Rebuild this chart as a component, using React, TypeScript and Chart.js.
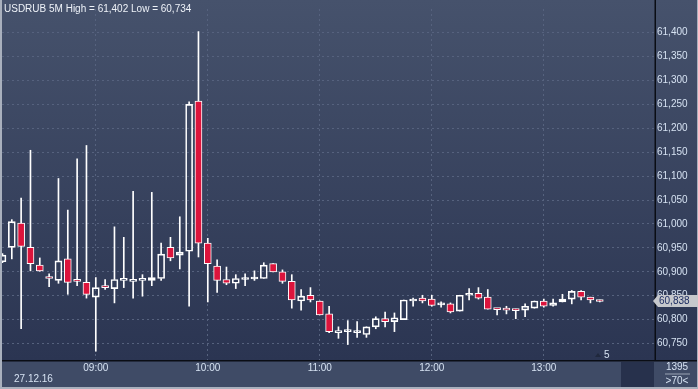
import React, { useEffect, useRef } from "react";
import { Chart, registerables } from "chart.js";

Chart.register(...registerables);

const TITLE = "USDRUB 5M High = 61,402 Low = 60,734";
const DATE_LABEL = "27.12.16";
const SHIFT_LABEL = "5";
const CORNER_TOP = "1395";
const CORNER_BOTTOM = ">70<";
const LAST_PRICE = 60.838;

// 5-minute candles, 08:10 .. 13:30
const OPEN = [
  60.921, 60.951, 61.002, 60.951, 60.914, 60.890, 60.882, 60.927, 60.881, 60.878,
  60.847, 60.871, 60.865, 60.882, 60.880, 60.882, 60.882, 60.886, 60.951, 60.935,
  60.943, 61.257, 60.960, 60.912, 60.884, 60.876, 60.884, 60.885, 60.886, 60.917,
  60.900, 60.880, 60.839, 60.851, 60.839, 60.812, 60.773, 60.775, 60.773, 60.769,
  60.785, 60.802, 60.796, 60.800, 60.839, 60.845, 60.843, 60.831, 60.833, 60.818,
  60.851, 60.855, 60.847, 60.822, 60.824, 60.820, 60.820, 60.824, 60.839, 60.830,
  60.837, 60.843, 60.859, 60.847, 60.839,
];
const HIGH = [
  60.938, 61.009, 61.054, 61.154, 60.929, 60.896, 61.095, 61.029, 61.136, 61.164,
  60.888, 60.884, 60.994, 60.972, 61.068, 60.894, 61.066, 60.960, 60.972, 61.015,
  61.255, 61.402, 60.970, 60.925, 60.910, 60.894, 60.896, 60.902, 60.919, 60.917,
  60.904, 60.894, 60.863, 60.867, 60.839, 60.828, 60.785, 60.798, 60.796, 60.785,
  60.806, 60.816, 60.814, 60.841, 60.845, 60.851, 60.851, 60.837, 60.835, 60.851,
  60.865, 60.867, 60.863, 60.822, 60.828, 60.822, 60.833, 60.839, 60.843, 60.843,
  60.853, 60.861, 60.861, 60.847, 60.841,
];
const LOW = [
  60.919, 60.927, 60.781, 60.902, 60.901, 60.869, 60.876, 60.853, 60.871, 60.845,
  60.734, 60.863, 60.835, 60.867, 60.845, 60.849, 60.871, 60.882, 60.923, 60.906,
  60.828, 60.931, 60.837, 60.857, 60.873, 60.865, 60.871, 60.882, 60.886, 60.900,
  60.876, 60.824, 60.820, 60.837, 60.810, 60.773, 60.761, 60.748, 60.763, 60.763,
  60.781, 60.785, 60.775, 60.800, 60.828, 60.835, 60.828, 60.826, 60.814, 60.818,
  60.841, 60.843, 60.822, 60.810, 60.812, 60.802, 60.806, 60.824, 60.826, 60.828,
  60.837, 60.833, 60.841, 60.835, 60.837,
];
const CLOSE = [
  60.935, 61.005, 60.953, 60.917, 60.902, 60.886, 60.923, 60.878, 60.880, 60.853,
  60.867, 60.867, 60.884, 60.886, 60.884, 60.886, 60.888, 60.937, 60.929, 60.941,
  61.250, 60.960, 60.917, 60.882, 60.876, 60.886, 60.884, 60.885, 60.914, 60.900,
  60.880, 60.841, 60.849, 60.841, 60.810, 60.775, 60.777, 60.775, 60.773, 60.785,
  60.802, 60.796, 60.804, 60.841, 60.843, 60.839, 60.830, 60.831, 60.816, 60.851,
  60.853, 60.845, 60.822, 60.821, 60.820, 60.819, 60.828, 60.839, 60.828, 60.835,
  60.843, 60.859, 60.847, 60.841, 60.838,
];

const TIME_TICK_INDEX = [10, 22, 34, 46, 58];
const TIME_TICK_LABELS = ["09:00", "10:00", "11:00", "12:00", "13:00"];
const Y_TICKS = [
  60.75, 60.8, 60.85, 60.9, 60.95, 61.0, 61.05, 61.1, 61.15, 61.2, 61.25, 61.3, 61.35, 61.4,
];

const X_MIN = -0.05;
const X_MAX = 69.81;
const Y_MIN = 60.7157;
const Y_MAX = 61.4492;

const FONT = "Liberation Sans, Arial, sans-serif";
const LABEL_COLOR = "#d6e2f2";
const GRID_COLOR = "#56627e";
const RED = "#dc143c";

const fmt = (v: number) => v.toFixed(3).replace(".", ",");

const decorPlugin = {
  id: "decor",
  beforeDraw(chart: any) {
    const { ctx, width, height } = chart;
    ctx.save();
    const g = ctx.createLinearGradient(0, 0, 0, 360);
    g.addColorStop(0, "#46526c");
    g.addColorStop(1, "#2b3552");
    ctx.fillStyle = g;
    ctx.fillRect(0, 0, width, 360);
    ctx.fillStyle = "#3f4b66";
    ctx.fillRect(0, 360, width, height - 360);
    ctx.fillStyle = "#27314c";
    ctx.fillRect(621, 362, 33, 25);
    ctx.restore();
  },
  afterDraw(chart: any) {
    const { ctx, width, height } = chart;
    const y = chart.scales.y;
    ctx.save();
    // separators
    ctx.fillStyle = "#0a0d14";
    ctx.fillRect(0, 360, width, 1.5);
    ctx.fillRect(654.5, 0, 1.5, 360);
    // outer border
    ctx.fillStyle = "#a9b0bd";
    ctx.fillRect(0, 0, 2, height);
    ctx.fillRect(0, height - 2, width, 2);
    ctx.fillRect(width - 1, 0, 1, height);

    ctx.font = `10px ${FONT}`;
    ctx.textBaseline = "middle";
    // title
    ctx.fillStyle = "#eef2f8";
    ctx.textAlign = "left";
    ctx.fillText(TITLE, 4, 9);
    // date
    ctx.fillStyle = LABEL_COLOR;
    ctx.fillText(DATE_LABEL, 14, 379);
    // shift marker
    ctx.fillStyle = "#20283d";
    ctx.beginPath();
    ctx.moveTo(595, 357);
    ctx.lineTo(598, 353);
    ctx.lineTo(601, 357);
    ctx.closePath();
    ctx.fill();
    ctx.fillStyle = LABEL_COLOR;
    ctx.fillText(SHIFT_LABEL, 604, 355);
    // corner
    ctx.textAlign = "center";
    ctx.fillText(CORNER_TOP, 677, 367);
    ctx.fillText(CORNER_BOTTOM, 677, 381);
    ctx.fillStyle = "#9aa3b4";
    ctx.fillRect(665, 373.5, 25, 1);
    // last price box
    const py = Math.round(y.getPixelForValue(LAST_PRICE));
    ctx.fillStyle = "#c6c8cc";
    ctx.beginPath();
    ctx.moveTo(653, py);
    ctx.lineTo(658, py - 6);
    ctx.lineTo(698, py - 6);
    ctx.lineTo(698, py + 6);
    ctx.lineTo(658, py + 6);
    ctx.closePath();
    ctx.fill();
    ctx.fillStyle = "#1d2d62";
    ctx.textAlign = "left";
    ctx.fillText(fmt(LAST_PRICE), 659, py + 0.5);
    ctx.restore();
  },
};

export default function App() {
  const ref = useRef<HTMLCanvasElement | null>(null);

  useEffect(() => {
    if (!ref.current) return;
    const idx = OPEN.map((_, i) => i);
    const chart = new Chart(ref.current, {
      type: "bar",
      data: {
        datasets: [
          {
            label: "body",
            data: idx.map((i) => ({ x: i, y: [OPEN[i], CLOSE[i]] })) as any,
            backgroundColor: idx.map((i) => (CLOSE[i] < OPEN[i] ? RED : "rgba(0,0,0,0)")),
            borderColor: "#ffffff",
            borderWidth: 1,
            borderSkipped: false,
            barThickness: 7,
            minBarLength: 2,
            grouped: false,
            order: 0,
          } as any,
          {
            label: "upper",
            data: idx.map((i) => ({ x: i, y: [Math.max(OPEN[i], CLOSE[i]), HIGH[i]] })) as any,
            backgroundColor: "#ffffff",
            borderWidth: 0,
            barThickness: 1,
            grouped: false,
            order: 1,
          } as any,
          {
            label: "lower",
            data: idx.map((i) => ({ x: i, y: [LOW[i], Math.min(OPEN[i], CLOSE[i])] })) as any,
            backgroundColor: "#ffffff",
            borderWidth: 0,
            barThickness: 1,
            grouped: false,
            order: 1,
          } as any,
        ],
      },
      options: {
        responsive: false,
        animation: false,
        devicePixelRatio: 1,
        layout: { padding: { left: 2, top: 2, right: 0, bottom: 0 } },
        plugins: { legend: { display: false }, tooltip: { enabled: false } },
        scales: {
          x: {
            type: "linear",
            min: X_MIN,
            max: X_MAX,
            offset: false,
            afterBuildTicks: (s: any) => {
              s.ticks = TIME_TICK_INDEX.map((v) => ({ value: v }));
            },
            afterFit: (s: any) => {
              s.height = 29;
            },
            ticks: {
              autoSkip: false,
              maxRotation: 0,
              padding: 2,
              color: LABEL_COLOR,
              font: { family: FONT, size: 10 },
              callback: (v: any) => {
                const k = TIME_TICK_INDEX.indexOf(Number(v));
                return k >= 0 ? TIME_TICK_LABELS[k] : "";
              },
            },
            grid: { color: GRID_COLOR, drawTicks: false, offset: false, lineWidth: 1 },
            border: { display: false, dash: [2, 3] },
          } as any,
          y: {
            type: "linear",
            position: "right",
            min: Y_MIN,
            max: Y_MAX,
            afterBuildTicks: (s: any) => {
              s.ticks = Y_TICKS.map((v) => ({ value: v }));
            },
            afterFit: (s: any) => {
              s.width = 44;
            },
            ticks: {
              padding: 3,
              color: LABEL_COLOR,
              font: { family: FONT, size: 10 },
              callback: (v: any) => fmt(Number(v)),
            },
            grid: { color: GRID_COLOR, drawTicks: false, lineWidth: 1 },
            border: { display: false, dash: [2, 3] },
          } as any,
        },
      },
      plugins: [decorPlugin],
    });
    return () => chart.destroy();
  }, []);

  return (
    <div style={{ position: "fixed", left: 0, top: 0, width: 698, height: 389 }}>
      <canvas ref={ref} width={698} height={389} style={{ display: "block" }} />
    </div>
  );
}
